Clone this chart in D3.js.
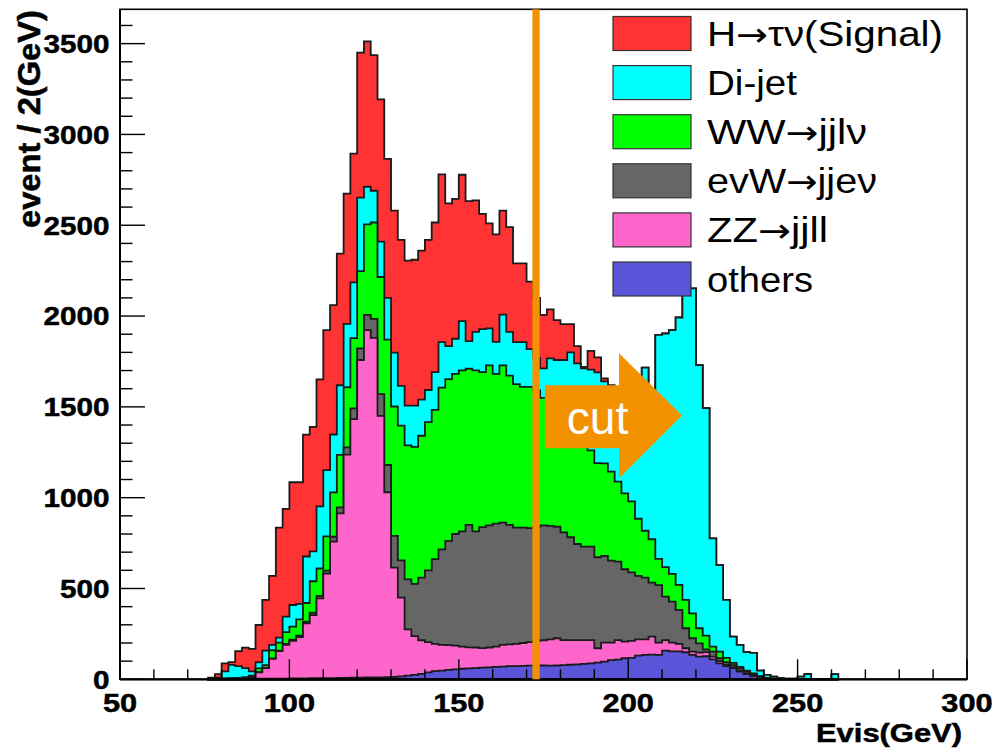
<!DOCTYPE html>
<html>
<head>
<meta charset="utf-8">
<script src="https://cdn.jsdelivr.net/npm/d3@7"></script>
<style>
  body { margin: 0; background: #fff; }
  svg { display: block; }
</style>
</head>
<body>
<div id="chart"></div>
<script>
// --- Data: 2 GeV bins starting at 76 GeV ---
const binLow = 76;
const binWidth = 2;

const others = [2,2,2,2,3,3,3,3,3,4,4,4,5,5,5,6,6,7,7,8,8,9,9,10,
  10,11,12,13,16,20,24,30,38,45, 48,52,55,58,60,62,64,66,68,70,
  72,73,74,75,75,76,75,76,78,80, 82,85,88,92,97,106,108,116,118,130,
  134,136,135,158,154,154,149,134,125,127, 110,88,73,61,42,29,18,7,4,2,
  1, 0,0,0,0,0,0,0,0];

const zz = [0,0,1,2,2,3,9,35,59,108,151,186,207,227,303,348,440,575,751,906,1229,1424,1749,1913,
  1870,1439,1018,602,434,255,214,185,167,150, 142,136,130,122,116,113,108,109,112,120,
  120,122,126,130,135,139,145,150,138,136, 134,131,128,79,105,96,108,91,94,90,
  86,99,67,58,48,41,22,18,22,23, 15,12,7,4,4,3,2,2,1,0,
  0, 0,0,0,0,0,0,0,0];

const evw = [0,0,0,0,0,0,1,2,2,3,3,5,6,8,10,13,13,16,27,33,40,59,64,83,
  105,120,150,175,205,275,287,345,395,467, 525,574,615,635,674,640,666,673,677,673,
  658,640,635,627,630,633,625,614,593,566, 529,514,514,501,477,451,432,399,377,349,
  340,297,317,239,226,187,110,74,51,15, 27,16,15,13,14,10,8,5,1,1,
  0, 0,0,0,0,0,0,0,0];

const ww = [0,0,1,2,3,6,7,20,14,45,44,65,72,90,102,173,151,189,244,289,331,387,425,499,
  530,645,690,712,742,738,755,781,816,821, 891,891,882,886,860,886,853,881,825,866,
  822,790,775,778,750,701,685,650,641,628, 625,590,530,518,510,490,440,418,391,315,
  258,239,144,163,152,138,156,137,83,75, 28,36,23,12,8,6,4,3,2,0,
  0, 0,0,0,0,0,0,0,0];

const dijet = [6,7,40,73,65,49,24,34,80,29,27,85,119,85,256,164,342,365,319,383,349,307,405,207,
  175,195,230,297,219,219,227,199,177,208, 250,181,193,271,152,212,237,203,176,279,
  241,231,246,208,180,163,237,268,308,390, 370,392,445,500,451,457,472,516,540,676,
  898,809,1233,1286,1343,1472,1715,1789,1449,1253, 596,477,319,145,122,102,113,31,16,12,
  6, 4,3,15,28,2,2,0,28];

const signal = [1,19,44,16,82,113,123,205,279,380,606,593,676,670,671,686,699,770,712,725,717,708,798,800,
  747,783,765,781,804,798,803,820,827,824, 924,786,770,806,771,724,635,578,592,572,
  577,434,434,372,330,294,270,220,198,156, 95,8,103,83,17,20,20,15,10,5,
  0,0,0,0,0,0,0,0,0,0, 0,0,0,0,0,0,0,0,0,0,
  0, 0,0,0,0,0,0,0,0];

const keys = ["others", "zz", "evw", "ww", "dijet", "signal"];
const legendLabels = {
  signal: "H\u2192\u03c4\u03bd(Signal)",
  dijet: "Di-jet",
  ww: "WW\u2192jjl\u03bd",
  evw: "evW\u2192jje\u03bd",
  zz: "ZZ\u2192jjll",
  others: "others"
};
const colors = {
  signal: "#ff3333", dijet: "#00ffff", ww: "#00ff00",
  evw: "#666666", zz: "#ff66cc", others: "#5954d8"
};
const legendOrder = ["signal", "dijet", "ww", "evw", "zz", "others"];
const legendWidths = {signal: 236, dijet: 90, ww: 160, evw: 170, zz: 121, others: 106};

const xTicks = [50, 100, 150, 200, 250, 300];
const yTicks = [0, 500, 1000, 1500, 2000, 2500, 3000, 3500];
const cutAt = 172.8;

// --- SVG root ---
const svg = d3.select("#chart").append("svg")
  .attr("width", 994).attr("height", 749);

const x = d3.scaleLinear().domain([50, 300]).range([120, 967]);
const y = d3.scaleLinear().domain([0, 3689]).range([679.3, 9.3]);

const rows = signal.map((_, i) => ({
  lo: binLow + i * binWidth,
  others: others[i], zz: zz[i], evw: evw[i], ww: ww[i], dijet: dijet[i], signal: signal[i]
}));
const layers = d3.stack().keys(keys)(rows);

// step outline for one cumulative layer (filled from 0, like THStack)
const area = d3.area()
  .curve(d3.curveStepAfter)
  .x(d => x(d.x))
  .y0(y(0))
  .y1(d => y(d.v));

const hist = svg.append("g");
layers.slice().reverse().forEach(layer => {
  const pts = layer.map(d => ({x: d.data.lo, v: d[1]}));
  const last = layer[layer.length - 1];
  pts.push({x: last.data.lo + binWidth, v: last[1]});
  hist.append("path")
    .attr("d", area(pts))
    .attr("fill", colors[layer.key])
    .attr("stroke", "#1a1a1a")
    .attr("stroke-width", 1.8)
    .attr("stroke-linejoin", "miter");
});

// --- Frame and ticks ---
svg.append("rect")
  .attr("x", 120).attr("y", 9.3)
  .attr("width", 847).attr("height", 670)
  .attr("fill", "none").attr("stroke", "#000").attr("stroke-width", 1.6);

const ticks = svg.append("g").attr("stroke", "#000").attr("stroke-width", 1.4);
d3.range(50, 301, 10).forEach(v => {
  const major = v % 50 === 0;
  ticks.append("line")
    .attr("x1", x(v)).attr("x2", x(v))
    .attr("y1", y(0)).attr("y2", y(0) - (major ? 20 : 10));
});
d3.range(0, 3689, 100).forEach(v => {
  const major = v % 500 === 0;
  ticks.append("line")
    .attr("x1", 120).attr("x2", 120 + (major ? 25 : 12.5))
    .attr("y1", y(v)).attr("y2", y(v));
});
svg.append("line")
  .attr("x1", 120).attr("x2", 967).attr("y1", y(0)).attr("y2", y(0))
  .attr("stroke", "#000").attr("stroke-width", 2.2);
svg.append("line")
  .attr("x1", 120).attr("x2", 120).attr("y1", 9.3).attr("y2", y(0))
  .attr("stroke", "#000").attr("stroke-width", 2);

const font = "'Liberation Sans', Arial, Helvetica, sans-serif";

// tick labels
svg.append("g").selectAll("text")
  .data(yTicks).join("text")
  .text(d => d)
  .attr("x", 109.5)
  .attr("y", d => y(d) + 9.4)
  .attr("text-anchor", "end")
  .attr("textLength", d => String(d).length * 16.5)
  .attr("lengthAdjust", "spacingAndGlyphs")
  .attr("stroke", "#000").attr("stroke-width", 0.5)
  .style("font-family", font).style("font-weight", "bold").style("font-size", "26px");

svg.append("g").selectAll("text")
  .data(xTicks).join("text")
  .text(d => d)
  .attr("x", d => x(d))
  .attr("y", 712)
  .attr("text-anchor", "middle")
  .attr("textLength", d => String(d).length * 17.1)
  .attr("lengthAdjust", "spacingAndGlyphs")
  .attr("stroke", "#000").attr("stroke-width", 0.5)
  .style("font-family", font).style("font-weight", "bold").style("font-size", "26px");

// axis titles
svg.append("text")
  .text("Evis(GeV)")
  .attr("x", 962).attr("y", 742)
  .attr("text-anchor", "end")
  .attr("textLength", 146).attr("lengthAdjust", "spacingAndGlyphs")
  .attr("stroke", "#000").attr("stroke-width", 0.5)
  .style("font-family", font).style("font-weight", "bold").style("font-size", "25.5px");

svg.append("text")
  .text("event / 2(GeV)")
  .attr("transform", "translate(40,10) rotate(-90)")
  .attr("text-anchor", "end")
  .attr("textLength", 218).attr("lengthAdjust", "spacingAndGlyphs")
  .attr("stroke", "#000").attr("stroke-width", 0.5)
  .style("font-family", font).style("font-weight", "bold").style("font-size", "31px");

// --- Legend (no box) ---
const legend = svg.append("g");
legendOrder.forEach((k, i) => {
  const cy = 33.5 + i * 49.1;
  legend.append("rect")
    .attr("x", 613).attr("y", cy - 17)
    .attr("width", 78).attr("height", 34)
    .attr("fill", colors[k]).attr("stroke", "#333").attr("stroke-width", 1.2);
  const t = legend.append("text")
    .attr("x", 707).attr("y", cy + 12.5)
    .attr("textLength", legendWidths[k]).attr("lengthAdjust", "spacingAndGlyphs")
    .style("font-family", font).style("font-size", "35px");
  // long arrow drawn with DejaVu (closer to the Symbol-font arrow)
  legendLabels[k].split("\u2192").forEach((part, j) => {
    if (j > 0) t.append("tspan").text("\u2192")
      .style("font-family", "'DejaVu Sans', sans-serif").style("font-size", "33px");
    t.append("tspan").text(part);
  });
});

// --- Cut line and arrow ---
const orange = "#f39200";
svg.append("line")
  .attr("x1", x(cutAt)).attr("x2", x(cutAt))
  .attr("y1", 9.3).attr("y2", y(0))
  .attr("stroke", orange).attr("stroke-width", 7.3);

const arrowPts = [
  [175.4, 1619], [197.3, 1619], [197.3, 1795], [215.9, 1452],
  [197.3, 1107], [197.3, 1272], [175.4, 1272]
];
svg.append("polygon")
  .attr("points", arrowPts.map(p => `${x(p[0])},${y(p[1])}`).join(" "))
  .attr("fill", orange);

svg.append("text")
  .text("cut")
  .attr("x", 566.7).attr("y", 433.5)
  .attr("textLength", 61.6).attr("lengthAdjust", "spacingAndGlyphs")
  .attr("fill", "#fff")
  .style("font-family", font).style("font-size", "46px");
</script>
</body>
</html>
